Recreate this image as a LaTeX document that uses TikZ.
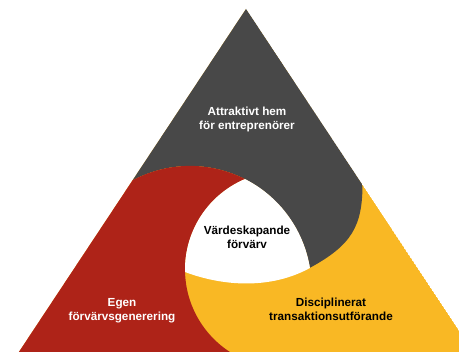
\documentclass[tikz,border=0pt]{standalone}
\usepackage{fontspec}
\setmainfont{Liberation Sans}
\definecolor{topgray}{HTML}{484848}
\definecolor{leftred}{HTML}{AE2318}
\definecolor{rightyellow}{HTML}{F9B824}
\begin{document}
\begin{tikzpicture}[x=1pt,y=-1pt,
  lbl/.style={font=\fontsize{11.7}{14}\selectfont\bfseries, align=center, inner sep=0pt}]
\useasboundingbox (0,0) rectangle (459,352);
\clip (0,0) rectangle (459,352);
\coordinate (apex) at (246,9);
\coordinate (bl) at (13.6,360);
\coordinate (br) at (478.4,360);
\clip (apex) -- (bl) -- (br) -- cycle;
% yellow base
\fill[rightyellow] (apex) -- (bl) -- (br) -- cycle;
% gray top region
\fill[topgray] (0,0) -- (0,182.2)
  -- plot[domain=0:1,samples=60] ({190+121.5*cos(-120+110.8*\x)},{287.4+121.5*sin(-120+110.8*\x)})
  .. controls (352,244.9) and (362.5,226) .. (362.5,184)
  -- (480,184) -- (480,0) -- cycle;
% red left region
\fill[leftred] (0,182.2)
  -- plot[domain=0:1,samples=40] ({190+121.5*cos(-120+56.9*\x)},{287.4+121.5*sin(-120+56.9*\x)})
  -- plot[domain=0:1,samples=80] ({283.2+98.2*cos(-112.9-132.1*\x)},{269.5+98.2*sin(-112.9-132.1*\x)})
  -- (0,360) -- cycle;
% white centre
\fill[white]
  plot[domain=0:1,samples=40] ({283.2+98.2*cos(-112.9-68.6*\x)},{269.5+98.2*sin(-112.9-68.6*\x)})
  .. controls (225,287) and (272,288.9) .. (309.94,267.98)
  -- plot[domain=0:1,samples=40] ({190+121.5*cos(-9.2-53.9*\x)},{287.4+121.5*sin(-9.2-53.9*\x)})
  -- cycle;
% labels
\node[lbl, text=white] (hem) at (247,119) {Attraktivt hem\\för entreprenörer};
\node[lbl, text=black] (core) at (247,237.8) {Värdeskapande\\förvärv};
\node[lbl, text=white] (egen) at (122,311) {Egen\\förvärvsgenerering};
\node[lbl, text=black] (disc) at (331,309.8) {Disciplinerat\\transaktionsutförande};
\end{tikzpicture}
\end{document}
